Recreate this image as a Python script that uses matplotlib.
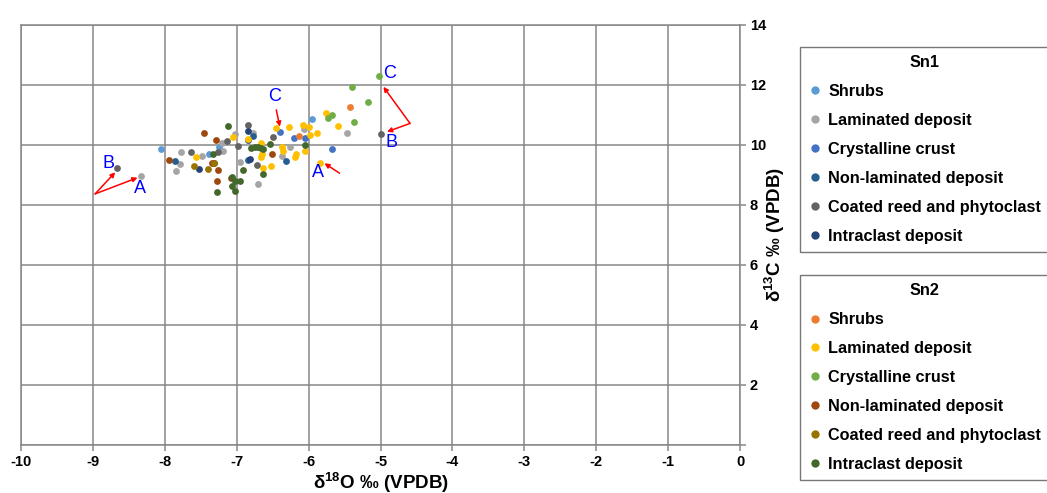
import matplotlib
matplotlib.use("Agg")
import matplotlib.pyplot as plt
from matplotlib.lines import Line2D

plt.rcParams['font.family'] = ['Liberation Sans', 'DejaVu Sans']
plt.rcParams['font.weight'] = 'bold'
plt.rcParams['axes.unicode_minus'] = False
plt.rcParams['mathtext.fontset'] = 'custom'
plt.rcParams['mathtext.rm'] = 'Liberation Sans:bold'
plt.rcParams['mathtext.default'] = 'rm'

categories = ["Shrubs", "Laminated deposit", "Crystalline crust",
              "Non-laminated deposit", "Coated reed and phytoclast", "Intraclast deposit"]

# Sn1 series (d18O, d13C)
sn1_shrubs_x = [-8.05, -7.39, -7.24, -5.96]
sn1_shrubs_y = [9.87, 9.70, 9.93, 10.88]
sn1_lam_x = [-8.33, -7.79, -7.85, -7.77, -7.49, -7.20, -7.19, -7.03, -6.95, -6.70, -6.77, -6.37, -6.26, -6.07, -5.46]
sn1_lam_y = [8.97, 9.36, 9.13, 9.76, 9.63, 10.08, 9.80, 10.37, 9.44, 8.69, 10.41, 9.63, 9.94, 10.53, 10.39]
sn1_cry_x = [-6.40, -6.20, -5.67, -6.05]
sn1_cry_y = [10.44, 10.24, 9.86, 10.22]
sn1_nonlam_x = [-7.86, -6.84, -6.31, -6.78]
sn1_nonlam_y = [9.47, 9.50, 9.48, 10.30]
sn1_coat_x = [-8.66, -7.63, -7.26, -7.13, -6.98, -6.85, -6.49, -6.72, -5.00]
sn1_coat_y = [9.24, 9.76, 9.78, 10.13, 9.97, 10.67, 10.28, 9.33, 10.37]
sn1_intra_x = [-7.53, -7.32, -6.85, -6.85, -6.82]
sn1_intra_y = [9.21, 9.39, 10.48, 10.17, 9.52]

# Sn2 series
sn2_shrubs_x = [-6.13, -5.42]
sn2_shrubs_y = [10.31, 11.28]
sn2_lam_x = [-7.57, -7.05, -6.85, -6.66, -6.46, -6.27, -6.08, -6.00, -5.59, -5.98, -5.88, -5.76,
             -6.37, -6.36, -6.18, -6.19, -6.05, -6.52, -6.65, -6.63, -5.84, -6.66]
sn2_lam_y = [9.59, 10.26, 10.19, 10.08, 10.56, 10.59, 10.68, 10.61, 10.63, 10.33, 10.41, 11.08,
             9.94, 9.81, 9.70, 9.61, 9.81, 9.30, 9.69, 9.22, 9.41, 9.60]
sn2_cry_x = [-5.02, -5.39, -5.17, -5.37, -5.68, -5.73]
sn2_cry_y = [12.30, 11.94, 11.43, 10.78, 11.01, 10.89]
sn2_nonlam_x = [-7.94, -7.45, -7.29, -7.34, -7.26, -7.28, -7.08, -6.51]
sn2_nonlam_y = [9.51, 10.39, 10.16, 9.39, 9.16, 8.81, 8.90, 9.70]
sn2_coat_x = [-7.60, -7.40, -7.31]
sn2_coat_y = [9.31, 9.21, 9.39]
sn2_intra_x = [-7.33, -7.27, -7.12, -7.07, -7.02, -6.96, -7.06, -7.03, -6.91, -6.80, -6.75,
               -6.70, -6.66, -6.63, -6.54, -6.64, -6.05]
sn2_intra_y = [9.69, 8.44, 10.63, 8.92, 8.81, 8.81, 8.63, 8.48, 9.17, 9.89, 9.92,
               9.93, 9.90, 9.88, 10.03, 9.02, 10.01]

sn1_colors = ['#5B9BD5', '#A5A5A5', '#4472C4', '#255E91', '#636363', '#264478']
sn2_colors = ['#ED7D31', '#FFC000', '#70AD47', '#9E480E', '#997300', '#43682B']

sn1 = [(sn1_shrubs_x, sn1_shrubs_y), (sn1_lam_x, sn1_lam_y), (sn1_cry_x, sn1_cry_y),
       (sn1_nonlam_x, sn1_nonlam_y), (sn1_coat_x, sn1_coat_y), (sn1_intra_x, sn1_intra_y)]
sn2 = [(sn2_shrubs_x, sn2_shrubs_y), (sn2_lam_x, sn2_lam_y), (sn2_cry_x, sn2_cry_y),
       (sn2_nonlam_x, sn2_nonlam_y), (sn2_coat_x, sn2_coat_y), (sn2_intra_x, sn2_intra_y)]

fig = plt.figure(figsize=(10.47, 4.93), dpi=100)
ax = fig.add_axes([0.0201, 0.0974, 0.6867, 0.8519])

for (xs, ys), c in zip(sn1, sn1_colors):
    ax.scatter(xs, ys, s=24, color=c, zorder=3, linewidths=0)
for (xs, ys), c in zip(sn2, sn2_colors):
    ax.scatter(xs, ys, s=24, color=c, zorder=3, linewidths=0)

gc = '#878787'
ax.set_xlim(-10, 0)
ax.set_ylim(0, 14)
ax.set_xticks(range(-10, 1))
ax.set_yticks(range(0, 15, 2))
ax.set_yticklabels([''] + [str(v) for v in range(2, 15, 2)])
ax.yaxis.tick_right()
ax.yaxis.set_label_position('right')
ax.grid(True, color=gc, lw=1.1, zorder=0)
for sp in ax.spines.values():
    sp.set_color(gc)
    sp.set_linewidth(1.1)
ax.tick_params(axis='both', colors=gc, labelcolor='black', labelsize=10.5, length=4, width=1.1)
ax.tick_params(axis='y', pad=3)
ax.set_xlabel(r'δ$^{18}$O ‰ (VPDB)', fontsize=13.5, fontweight='bold', labelpad=1)
ax.set_ylabel(r'δ$^{13}$C ‰ (VPDB)', fontsize=13.5, fontweight='bold', labelpad=-2)

# annotations
arr = dict(arrowstyle='-|>', color='red', lw=1.1, mutation_scale=7, shrinkA=0, shrinkB=0)
ax.annotate('', xy=(-8.69, 9.09), xytext=(-8.97, 8.37), arrowprops=arr)
ax.annotate('', xy=(-8.38, 8.91), xytext=(-8.97, 8.37), arrowprops=arr)
ax.annotate('', xy=(-6.40, 10.61), xytext=(-6.45, 11.17), arrowprops=arr)
ax.annotate('', xy=(-5.78, 9.39), xytext=(-5.57, 9.06), arrowprops=arr)
ax.annotate('', xy=(-4.96, 11.94), xytext=(-4.59, 10.72), arrowprops=arr)
ax.annotate('', xy=(-4.91, 10.44), xytext=(-4.59, 10.72), arrowprops=arr)
lab = dict(color='#0000FF', fontsize=13, fontweight='normal', ha='center', va='center')
ax.text(-8.79, 9.37, 'B', **lab)
ax.text(-8.34, 8.55, 'A', **lab)
ax.text(-6.48, 11.6, 'C', **lab)
ax.text(-5.87, 9.07, 'A', **lab)
ax.text(-4.87, 12.37, 'C', **lab)
ax.text(-4.85, 10.07, 'B', **lab)

def handles(colors):
    return [Line2D([], [], marker='o', ls='none', markersize=6, color=c, markeredgewidth=0)
            for c in colors]

legkw = dict(fontsize=11.7, title_fontproperties={'weight': 'bold', 'size': 11.7},
             frameon=True, fancybox=False, edgecolor='#555555', labelspacing=0.86,
             handletextpad=0.35, handlelength=0.9, borderaxespad=0, borderpad=0.5)
leg1 = fig.legend(handles(sn1_colors), categories, title='Sn1', loc='upper left',
                  bbox_to_anchor=(0.764, 0.905), **legkw)
leg2 = fig.legend(handles(sn2_colors), categories, title='Sn2', loc='upper left',
                  bbox_to_anchor=(0.764, 0.442), **legkw)
for lg in (leg1, leg2):
    lg.get_frame().set_linewidth(1.0)

fig.savefig('out.png', dpi=100)
